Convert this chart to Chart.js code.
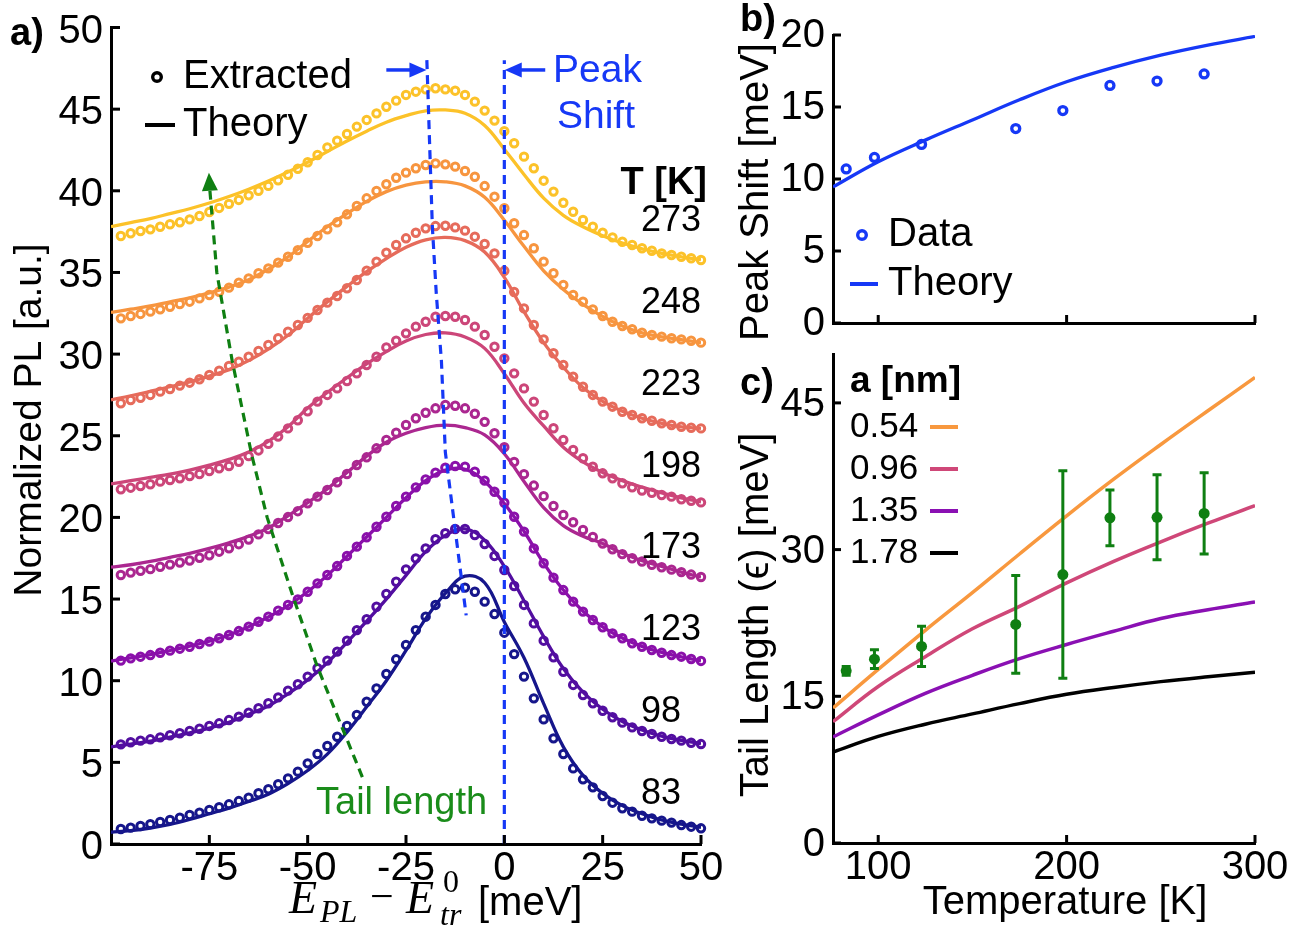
<!DOCTYPE html>
<html>
<head>
<meta charset="utf-8">
<title>PL spectra, peak shift and tail length</title>
<script src="https://cdn.jsdelivr.net/npm/chart.js@4.4.1/dist/chart.umd.min.js"></script>
<style>
  body { margin: 0; background: #fff; }
  #wrap { position: relative; width: 1300px; height: 928px; overflow: hidden; }
  canvas { position: absolute; }
</style>
</head>
<body>
<div id="wrap">
  <canvas id="spectra" width="730" height="928" style="left:0;top:0;width:730px;height:928px"></canvas>
  <canvas id="shift" width="570" height="352" style="left:730px;top:0;width:570px;height:352px"></canvas>
  <canvas id="tail" width="570" height="583" style="left:730px;top:345px;width:570px;height:583px"></canvas>
</div>
<script>
// ---------- panel a : normalized PL spectra (offset per temperature) ----------
const energy = [-97.5,-95,-92.5,-90,-87.5,-85,-82.5,-80,-77.5,-75,-72.5,-70,-67.5,-65,-62.5,-60,-57.5,-55,-52.5,-50,
  -47.5,-45,-42.5,-40,-37.5,-35,-32.5,-30,-27.5,-25,-22.5,-20,-17.5,-15,-12.5,-10,-7.5,-5,-2.5,0,
  2.5,5,7.5,10,12.5,15,17.5,20,22.5,25,27.5,30,32.5,35,37.5,40,42.5,45,47.5,50];
const energyFit = [-100,-95,-90,-85,-80,-75,-70,-65,-60,-55,-50,-45,-40,-35,-30,-25,-20,-15,-10,-5,0,
  5,10,15,20,25,30,35,40,45,50];
const temps = [83, 98, 123, 173, 198, 223, 248, 273];

// extracted spectra
const pl83 = [0.92,1.0,1.1,1.22,1.35,1.47,1.61,1.78,1.92,2.08,2.25,2.43,2.63,2.84,3.11,3.35,3.66,4.02,4.43,4.94,
  5.51,6.0,6.57,7.23,7.9,8.71,9.53,10.41,11.31,12.19,13.1,13.92,14.64,15.31,15.6,15.7,15.45,14.84,14.08,12.94,
  11.63,10.25,8.92,7.63,6.47,5.51,4.63,3.96,3.47,2.94,2.53,2.19,1.98,1.73,1.57,1.43,1.31,1.16,1.06,0.96];
const pl98 = [6.1,6.23,6.33,6.41,6.53,6.66,6.78,6.92,7.06,7.23,7.39,7.59,7.8,8.04,8.31,8.62,8.98,9.39,9.78,10.25,
  10.76,11.23,11.78,12.45,13.1,13.76,14.53,15.31,16.06,16.82,17.49,18.1,18.66,19.03,19.29,19.29,18.92,18.37,17.64,16.78,
  15.8,14.64,13.51,12.45,11.43,10.55,9.74,9.12,8.62,8.16,7.76,7.43,7.14,6.92,6.74,6.57,6.43,6.33,6.2,6.12];
const pl123 = [11.23,11.37,11.47,11.57,11.71,11.84,11.96,12.08,12.25,12.39,12.6,12.8,13.04,13.31,13.61,13.92,14.29,14.64,14.98,15.45,
  15.96,16.47,17.02,17.64,18.21,18.78,19.43,20.04,20.7,21.27,21.84,22.33,22.74,23.04,23.15,23.11,22.8,22.25,21.57,20.9,
  20.04,19.13,18.1,17.19,16.31,15.55,14.84,14.23,13.72,13.27,12.9,12.6,12.29,12.08,11.88,11.71,11.57,11.47,11.33,11.21];
const pl173 = [16.47,16.62,16.73,16.83,16.98,17.11,17.24,17.36,17.53,17.68,17.9,18.11,18.36,18.64,18.96,19.28,19.66,20.02,20.38,20.86,
  21.27,21.68,22.15,22.66,23.21,23.68,24.23,24.74,25.19,25.66,26.07,26.41,26.68,26.88,26.84,26.68,26.35,25.85,25.15,24.3,
  23.4,22.65,21.95,21.3,20.7,20.15,19.7,19.23,18.8,18.4,18.05,17.75,17.5,17.3,17.1,16.95,16.8,16.65,16.5,16.35];
const pl198 = [21.72,21.82,21.92,22.03,22.19,22.29,22.39,22.53,22.66,22.84,23.01,23.15,23.41,23.75,24.1,24.5,24.95,25.45,25.95,26.5,
  27.09,27.5,27.9,28.35,28.82,29.33,29.84,30.41,30.82,31.27,31.68,31.98,32.29,32.33,32.29,32.09,31.68,31.17,30.45,29.74,
  28.82,27.9,27.09,26.27,25.46,24.74,24.13,23.62,23.1,22.7,22.39,22.09,21.84,21.64,21.51,21.37,21.27,21.11,21.02,20.92];
const pl223 = [26.99,27.19,27.33,27.5,27.7,27.86,28.07,28.25,28.46,28.72,28.98,29.27,29.53,29.84,30.19,30.56,30.97,31.37,31.78,32.22,
  32.7,33.15,33.56,34.03,34.54,35.11,35.66,36.21,36.68,37.09,37.43,37.7,37.84,37.86,37.76,37.56,37.19,36.74,36.17,35.1,
  33.8,32.8,31.78,30.9,30.05,29.33,28.62,28.0,27.5,27.09,26.78,26.47,26.27,26.07,25.92,25.76,25.66,25.55,25.49,25.45];
const pl248 = [32.19,32.33,32.46,32.6,32.74,32.9,33.07,33.21,33.41,33.62,33.82,34.07,34.37,34.64,34.95,35.25,35.6,35.96,36.37,36.82,
  37.23,37.64,38.07,38.56,39.07,39.54,39.99,40.4,40.8,41.11,41.38,41.58,41.68,41.62,41.48,41.21,40.86,40.29,39.64,38.93,
  38.01,37.29,36.48,35.66,34.95,34.23,33.62,33.21,32.74,32.33,31.98,31.72,31.52,31.31,31.17,31.07,30.97,30.9,30.82,30.7];
const pl273 = [37.23,37.4,37.54,37.64,37.8,37.95,38.07,38.25,38.46,38.7,38.95,39.2,39.44,39.72,40.0,40.3,40.64,40.98,41.35,41.75,
  42.19,42.66,43.07,43.48,43.93,44.34,44.74,45.15,45.52,45.87,46.07,46.21,46.28,46.21,46.13,45.87,45.46,44.91,44.3,43.65,
  42.91,42.09,41.38,40.62,39.95,39.27,38.72,38.21,37.8,37.43,37.15,36.88,36.68,36.48,36.33,36.17,36.07,35.96,35.87,35.76];

// theory spectra
const fit83 = [0.72,0.82,0.98,1.2,1.5,1.85,2.2,2.6,3.05,3.7,4.5,5.5,6.85,8.4,10.0,11.85,13.8,15.35,16.4,16.0,13.6,
  11.4,8.6,5.95,4.2,3.1,2.35,1.85,1.47,1.22,1.02];
const fit98 = [5.95,6.12,6.3,6.55,6.8,7.1,7.45,7.95,8.45,9.2,10.05,11.1,12.35,13.65,15.0,16.45,17.9,18.9,19.3,18.6,17.0,
  14.9,12.7,10.75,9.3,8.25,7.5,6.98,6.6,6.35,6.15];
const fit123 = [11.2,11.4,11.6,11.85,12.12,12.42,12.8,13.3,13.9,14.6,15.45,16.45,17.62,18.8,20.0,21.2,22.25,22.9,22.95,22.2,20.85,
  19.15,17.2,15.55,14.25,13.3,12.62,12.1,11.73,11.46,11.22];
const fit173 = [16.95,17.1,17.3,17.55,17.8,18.1,18.45,18.85,19.35,20.1,20.9,21.75,22.75,23.75,24.6,25.15,25.5,25.65,25.5,25.05,23.9,
  22.2,20.6,19.5,18.85,18.4,17.8,17.35,17.0,16.65,16.35];
const fit198 = [22.05,22.25,22.45,22.65,22.9,23.2,23.55,24.0,24.65,25.55,26.7,27.65,28.55,29.4,30.15,30.8,31.2,31.3,31.05,30.35,28.8,
  27.0,25.6,24.3,23.4,22.75,22.25,21.85,21.5,21.2,20.95];
const fit223 = [27.2,27.45,27.72,28.0,28.3,28.65,29.05,29.6,30.3,31.15,32.2,33.2,34.15,35.05,35.85,36.55,37.0,37.15,36.95,36.25,34.7,
  32.6,30.7,29.2,27.95,27.1,26.5,26.07,25.76,25.55,25.45];
const fit248 = [32.55,32.75,32.95,33.2,33.45,33.75,34.1,34.55,35.2,35.95,36.9,37.8,38.6,39.35,39.95,40.35,40.55,40.55,40.3,39.6,38.2,
  36.6,35.1,33.95,33.05,32.3,31.72,31.3,31.05,30.88,30.7];
const fit273 = [37.8,38.05,38.3,38.6,38.9,39.25,39.65,40.1,40.6,41.15,41.75,42.4,43.05,43.65,44.2,44.6,44.9,44.95,44.75,44.0,42.55,
  41.0,39.55,38.5,37.8,37.25,36.8,36.45,36.17,35.96,35.78];

// guide lines drawn over the spectra (meV, a.u.)
const peakGuideE = [-19.7, -18.3, -17.3, -16.0, -15.0, -12.9, -9.7];
const peakGuideV = [48.0, 37.8, 33.7, 29.6, 24.0, 20.0, 14.0];
const zeroGuideE = [0, 0];
const zeroGuideV = [0, 48.0];
const tailGuideE = [-36.1, -41.7, -47.6, -54.0, -60.3, -64.2, -69.2, -73.1, -74.85];
const tailGuideV = [4.1, 7.4, 10.9, 15.35, 20.0, 23.8, 29.6, 35.0, 40.0];
const tailTip = [-75.1, 41.1];

// ---------- panel b : peak shift ----------
const peakShift = [10.7, 11.5, 12.4, 13.5, 14.75, 16.5, 16.8, 17.3];
const tempFit = [76, 100, 125, 150, 175, 200, 225, 250, 275, 300];
const peakShiftFit = [9.45, 11.2, 12.7, 14.1, 15.5, 16.75, 17.75, 18.6, 19.3, 19.9];

// ---------- panel c : tail length ----------
const tailLength = [17.6, 18.8, 20.1, 22.35, 27.45, 33.25, 33.3, 33.7];
const tailErr = [0.45, 0.95, 2.05, 5.0, 10.6, 2.85, 4.35, 4.15];
const radii = ['0.54', '0.96', '1.35', '1.78'];
const tail054 = [13.8, 17.75, 21.75, 25.6, 29.55, 33.45, 37.2, 40.75, 44.2, 47.6];
const tail096 = [12.4, 16.0, 19.05, 21.9, 24.2, 26.6, 28.8, 30.8, 32.7, 34.5];
const tail135 = [10.85, 13.1, 15.3, 17.15, 18.85, 20.3, 21.65, 22.95, 23.85, 24.65];
const tail178 = [9.3, 10.9, 12.15, 13.2, 14.25, 15.2, 15.9, 16.5, 17.0, 17.45];

// tick values
const xTicksA = [-75, -50, -25, 0, 25, 50];
const yTicksA = [0, 5, 10, 15, 20, 25, 30, 35, 40, 45, 50];
const xTicksT = [100, 200, 300];
const yTicksB = [0, 5, 10, 15, 20];
const yTicksC = [0, 15, 30, 45];

const FONT = '"Liberation Sans", Arial, sans-serif';
const SERIF = '"Liberation Serif", "DejaVu Serif", serif';
const BLUE = '#1638f6';
const GREEN = '#0f7f12';
const tempColors = ['#16168b', '#520ea0', '#8a10aa', '#ab2790', '#cc4679', '#e66b5b', '#f7953f', '#fcc229'];
const radiusColors = ['#f8983e', '#cf4778', '#8a10b3', '#000000'];

const pts = (xs, ys) => xs.map((x, i) => ({x: x, y: ys[i]}));

function xScale(min, max, tickVals, boxH, show) {
  return {
    type: 'linear', min: min, max: max,
    afterBuildTicks: s => { s.ticks = tickVals.map(v => ({value: v})); },
    afterFit: s => { s.height = boxH; s.paddingLeft = 0; s.paddingRight = 0; },
    grid: {display: false, drawTicks: false},
    border: {display: true, color: '#000', width: 3},
    ticks: {display: show, autoSkip: false, maxRotation: 0, padding: 1, color: '#000', font: {family: FONT, size: 40}}
  };
}
function yScale(min, max, tickVals, boxW, shift) {
  return {
    type: 'linear', min: min, max: max,
    afterBuildTicks: s => { s.ticks = tickVals.map(v => ({value: v})); },
    afterFit: s => { s.width = boxW; s.paddingTop = 0; s.paddingBottom = 0; },
    grid: {display: false, drawTicks: false},
    border: {display: true, color: '#000', width: 3},
    ticks: {autoSkip: false, padding: 8, labelOffset: shift, color: '#000', font: {family: FONT, size: 40}}
  };
}

function drawInTicks(chart, len) {
  const ctx = chart.ctx, a = chart.chartArea, sx = chart.scales.x, sy = chart.scales.y;
  ctx.save();
  ctx.strokeStyle = '#000';
  ctx.lineWidth = 3;
  sx.ticks.forEach(t => {
    const p = sx.getPixelForValue(t.value);
    ctx.beginPath(); ctx.moveTo(p, a.bottom); ctx.lineTo(p, a.bottom - len); ctx.stroke();
  });
  sy.ticks.forEach(t => {
    const p = sy.getPixelForValue(t.value);
    ctx.beginPath(); ctx.moveTo(a.left, p); ctx.lineTo(a.left + len, p); ctx.stroke();
  });
  ctx.restore();
}

function txt(ctx, s, x, y, font, color, align) {
  ctx.font = font;
  ctx.fillStyle = color || '#000';
  ctx.textAlign = align || 'left';
  ctx.textBaseline = 'middle';
  ctx.fillText(s, x, y);
}
function vtxt(ctx, s, x, y, font) {
  ctx.save();
  ctx.translate(x, y);
  ctx.rotate(-Math.PI / 2);
  txt(ctx, s, 0, 0, font, '#000', 'center');
  ctx.restore();
}
function head(ctx, tx, ty, fx, fy, half, color) {
  const dx = tx - fx, dy = ty - fy, L = Math.hypot(dx, dy);
  const px = -dy / L * half, py = dx / L * half;
  ctx.fillStyle = color;
  ctx.beginPath();
  ctx.moveTo(tx, ty); ctx.lineTo(fx + px, fy + py); ctx.lineTo(fx - px, fy - py); ctx.closePath();
  ctx.fill();
}
function arrow(ctx, x0, y0, x1, y1, color) {
  const L = Math.hypot(x1 - x0, y1 - y0), ux = (x1 - x0) / L, uy = (y1 - y0) / L;
  const bx = x1 - ux * 17, by = y1 - uy * 17;
  ctx.strokeStyle = color; ctx.lineWidth = 3.5;
  ctx.beginPath(); ctx.moveTo(x0, y0); ctx.lineTo(bx + ux, by + uy); ctx.stroke();
  head(ctx, x1, y1, bx, by, 7.5, color);
}
function ring(ctx, x, y, color) {
  ctx.strokeStyle = color; ctx.lineWidth = 3.4;
  ctx.beginPath(); ctx.arc(x, y, 4.3, 0, Math.PI * 2); ctx.stroke();
}
function dash(ctx, x0, x1, y, color) {
  ctx.strokeStyle = color; ctx.lineWidth = 4;
  ctx.beginPath(); ctx.moveTo(x0, y); ctx.lineTo(x1, y); ctx.stroke();
}

const common = {
  responsive: false, animation: false, devicePixelRatio: 1, events: [],
  plugins: {legend: {display: false}, tooltip: {enabled: false}}
};

// ---------- panel a ----------
const plData = [pl83, pl98, pl123, pl173, pl198, pl223, pl248, pl273];
const fitData = [fit83, fit98, fit123, fit173, fit198, fit223, fit248, fit273];

const dsA = [
  {data: pts(zeroGuideE, zeroGuideV), borderColor: BLUE, borderWidth: 3.2, borderDash: [9, 6], pointRadius: 0, order: 0},
  {data: pts(peakGuideE, peakGuideV), borderColor: BLUE, borderWidth: 3.2, borderDash: [9, 6], pointRadius: 0, order: 0},
  {data: pts(tailGuideE, tailGuideV), borderColor: GREEN, borderWidth: 3.2, borderDash: [9, 6], pointRadius: 0, order: 0}
];
temps.forEach((t, i) => {
  dsA.push({data: pts(energy, plData[i]), showLine: false, pointRadius: 3.7, pointBorderWidth: 3,
    pointBorderColor: tempColors[i], pointBackgroundColor: 'rgba(0,0,0,0)', order: 1, clip: false});
  dsA.push({data: pts(energyFit, fitData[i]), borderColor: tempColors[i], borderWidth: 3.3, pointRadius: 0,
    tension: 0.4, order: 2});
});

new Chart(document.getElementById('spectra'), {
  type: 'line',
  data: {datasets: dsA},
  options: Object.assign({}, common, {
    layout: {padding: {left: 0, top: 27.5, right: 29, bottom: 0}},
    scales: {x: xScale(-100, 50, xTicksA, 928 - 844, true), y: yScale(0, 50, yTicksA, 111, 4)}
  }),
  plugins: [{
    id: 'spectraOverlay',
    afterDraw(chart) {
      const ctx = chart.ctx, sx = chart.scales.x, sy = chart.scales.y;
      drawInTicks(chart, 9);
      ctx.save();
      // peak shift arrows
      arrow(ctx, sx.getPixelForValue(-30), sy.getPixelForValue(47.4), sx.getPixelForValue(-19.8), sy.getPixelForValue(47.4), BLUE);
      arrow(ctx, sx.getPixelForValue(10.4), sy.getPixelForValue(47.4), sx.getPixelForValue(0.1), sy.getPixelForValue(47.4), BLUE);
      // tail length arrow head
      head(ctx, sx.getPixelForValue(tailTip[0]), sy.getPixelForValue(tailTip[1]),
        sx.getPixelForValue(tailGuideE[tailGuideE.length - 1]), sy.getPixelForValue(tailGuideV[tailGuideV.length - 1]), 8, GREEN);

      txt(ctx, 'a)', 10, 35, 'bold 38px ' + FONT);
      ring(ctx, 157, 77, '#000');
      txt(ctx, 'Extracted', 183, 77, '40px ' + FONT);
      dash(ctx, 145, 175, 125, '#000');
      txt(ctx, 'Theory', 183, 125, '40px ' + FONT);
      txt(ctx, 'Peak', 553, 71, '39px ' + FONT, BLUE);
      txt(ctx, 'Shift', 557, 117, '39px ' + FONT, BLUE);
      txt(ctx, 'T [K]', 707, 184, 'bold 38px ' + FONT, '#000', 'right');
      const labelY = [794, 712, 630, 548, 467, 385, 303, 221];
      temps.forEach((t, i) => txt(ctx, String(t), 641, labelY[i], '36px ' + FONT));
      txt(ctx, 'Tail length', 316, 804, '38px ' + FONT, '#1a8c1a');
      vtxt(ctx, 'Normalized PL [a.u.]', 30, 420, '39px ' + FONT);

      // x title: E_PL - E_tr^0 [meV]
      ctx.fillStyle = '#000'; ctx.textAlign = 'left'; ctx.textBaseline = 'alphabetic';
      ctx.font = 'italic 46px ' + SERIF; ctx.fillText('E', 289, 913);
      ctx.font = 'italic 32px ' + SERIF; ctx.fillText('PL', 320, 922);
      ctx.font = '42px ' + SERIF; ctx.fillText('\u2212', 370, 910);
      ctx.font = 'italic 46px ' + SERIF; ctx.fillText('E', 406, 913);
      ctx.font = '32px ' + SERIF; ctx.fillText('0', 443, 892);
      ctx.font = 'italic 32px ' + SERIF; ctx.fillText('tr', 440, 925);
      ctx.font = '40px ' + FONT; ctx.fillText('[meV]', 478, 915);
      ctx.restore();
    }
  }]
});

// ---------- panel b ----------
new Chart(document.getElementById('shift'), {
  type: 'line',
  data: {datasets: [
    {data: pts(temps, peakShift), showLine: false, pointRadius: 4, pointBorderWidth: 3.3,
      pointBorderColor: BLUE, pointBackgroundColor: 'rgba(0,0,0,0)', order: 0, clip: false},
    {data: pts(tempFit, peakShiftFit), borderColor: BLUE, borderWidth: 3.3, pointRadius: 0,
      tension: 0.4, order: 1}
  ]},
  options: Object.assign({}, common, {
    layout: {padding: {left: 0, top: 35, right: 45, bottom: 0}},
    scales: {x: xScale(76, 300, xTicksT, 352 - 323, false), y: yScale(0, 20, yTicksB, 103, 1)}
  }),
  plugins: [{
    id: 'shiftOverlay',
    afterDraw(chart) {
      const ctx = chart.ctx;
      drawInTicks(chart, 8);
      ctx.save();
      txt(ctx, 'b)', 10, 21, 'bold 38px ' + FONT);
      vtxt(ctx, 'Peak Shift [meV]', 27, 192, '40px ' + FONT);
      ring(ctx, 132, 235, BLUE);
      txt(ctx, 'Data', 158, 235, '40px ' + FONT);
      dash(ctx, 120, 148, 284, BLUE);
      txt(ctx, 'Theory', 158, 284, '40px ' + FONT);
      ctx.restore();
    }
  }]
});

// ---------- panel c ----------
const tailFits = [tail054, tail096, tail135, tail178];
const dsC = [{data: pts(temps, tailLength), showLine: false, pointRadius: 5.5, pointBorderWidth: 0,
  pointBackgroundColor: GREEN, order: 0, clip: false}];
tailFits.forEach((f, i) => dsC.push({data: pts(tempFit, f), borderColor: radiusColors[i], borderWidth: 3.5,
  pointRadius: 0, tension: 0.4, order: 1}));

new Chart(document.getElementById('tail'), {
  type: 'line',
  data: {datasets: dsC},
  options: Object.assign({}, common, {
    layout: {padding: {left: 0, top: 9, right: 45, bottom: 0}},
    scales: {x: xScale(76, 300, xTicksT, 583 - 498, true), y: yScale(0, 50, yTicksC, 103, 2)}
  }),
  plugins: [{
    id: 'tailOverlay',
    afterDatasetsDraw(chart) {
      const ctx = chart.ctx, sx = chart.scales.x, sy = chart.scales.y;
      ctx.save();
      ctx.strokeStyle = GREEN; ctx.lineWidth = 3;
      temps.forEach((t, i) => {
        const px = sx.getPixelForValue(t);
        const lo = sy.getPixelForValue(tailLength[i] - tailErr[i]);
        const hi = sy.getPixelForValue(tailLength[i] + tailErr[i]);
        ctx.beginPath();
        ctx.moveTo(px, lo); ctx.lineTo(px, hi);
        ctx.moveTo(px - 4.5, lo); ctx.lineTo(px + 4.5, lo);
        ctx.moveTo(px - 4.5, hi); ctx.lineTo(px + 4.5, hi);
        ctx.stroke();
      });
      ctx.restore();
    },
    afterDraw(chart) {
      const ctx = chart.ctx;
      drawInTicks(chart, 8);
      ctx.save();
      txt(ctx, 'c)', 10, 40, 'bold 38px ' + FONT);
      txt(ctx, 'a [nm]', 120, 37, 'bold 37px ' + FONT);
      const rowY = [82, 124, 166, 208];
      radii.forEach((r, i) => {
        txt(ctx, r, 120, rowY[i], '35px ' + FONT);
        dash(ctx, 200, 228, rowY[i], radiusColors[i]);
      });
      vtxt(ctx, 'Tail Length (\u03f5) [meV]', 27, 270, '40px ' + FONT);
      txt(ctx, 'Temperature [K]', 335, 558, '40px ' + FONT, '#000', 'center');
      ctx.restore();
    }
  }]
});
</script>
</body>
</html>
